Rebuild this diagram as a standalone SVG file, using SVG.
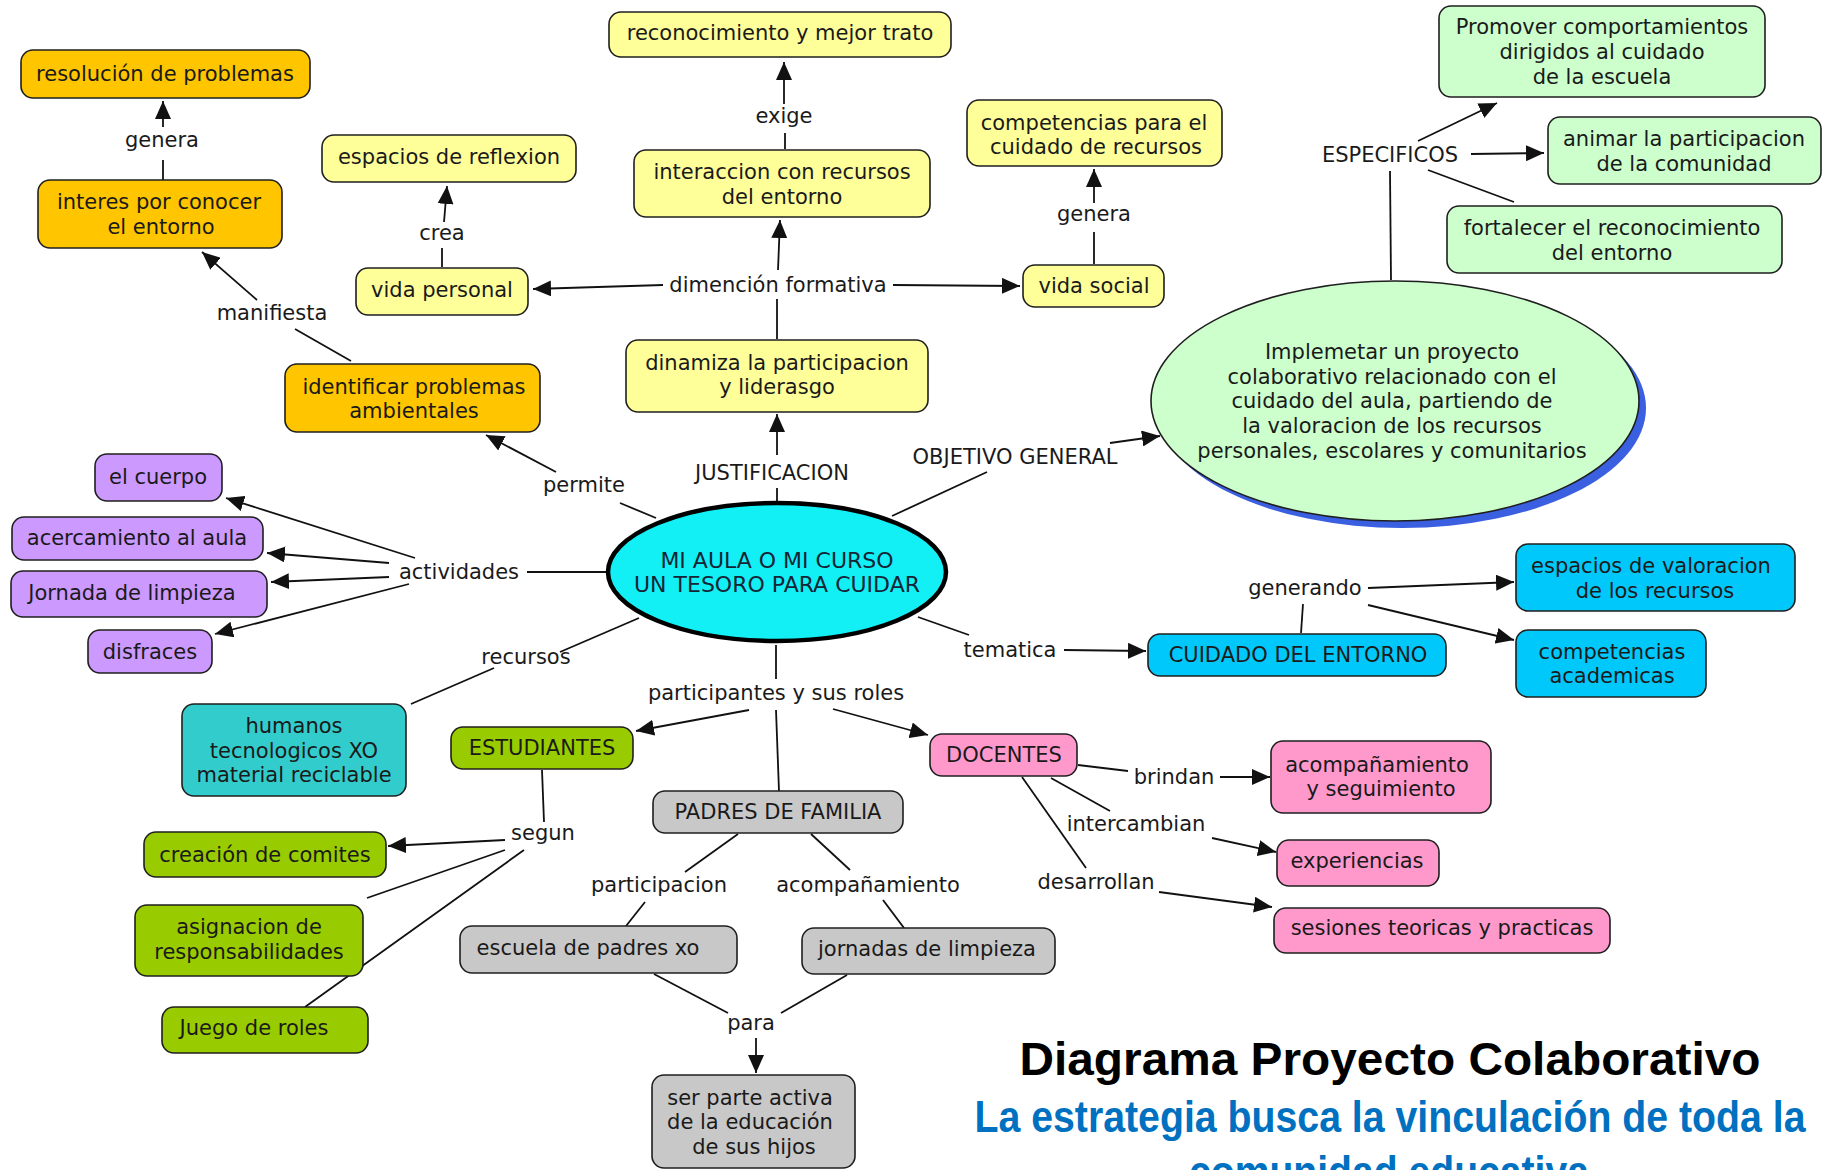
<svg xmlns="http://www.w3.org/2000/svg" width="1822" height="1170" viewBox="0 0 1822 1170">
<defs>
<style>
text{font-family:"DejaVu Sans",Verdana,sans-serif;font-size:21px;fill:#1a1a1a;text-anchor:middle}
.b{stroke:#1f1f1f;stroke-width:1.6}
.or{fill:#FFC600}.ye{fill:#FFFF99}.gr{fill:#CCFFCC}.pu{fill:#CC99FF}.te{fill:#33CCCC}.lg{fill:#99CC00}.gy{fill:#C8C8C8}.pk{fill:#FF99CC}.bl{fill:#00C8FA}
#conn line{stroke:#111;stroke-width:1.8;fill:none}
.a{marker-end:url(#ah)}
.t1{font-family:"Liberation Sans",Arial,sans-serif;font-weight:bold;font-size:47px;fill:#000}
.t2{font-family:"Liberation Sans",Arial,sans-serif;font-weight:bold;font-size:45px;fill:#0070C0}
</style>
<marker id="ah" markerUnits="userSpaceOnUse" markerWidth="18" markerHeight="16" refX="18" refY="8" orient="auto"><path d="M0,0 L18,8 L0,16 z" fill="#111"/></marker>
</defs>
<rect width="1822" height="1170" fill="#fff"/>
<g id="conn">
<line x1="351" y1="361" x2="295" y2="329"/>
<line class="a" x1="257" y1="300" x2="202" y2="252"/>
<line x1="163" y1="180" x2="163" y2="160"/>
<line class="a" x1="163" y1="127" x2="163" y2="101"/>
<line class="a" x1="663" y1="285" x2="533" y2="289"/>
<line x1="442" y1="267" x2="442" y2="248"/>
<line class="a" x1="444" y1="222" x2="447" y2="186"/>
<line class="a" x1="778" y1="270" x2="780" y2="220"/>
<line x1="777" y1="339" x2="777" y2="299"/>
<line x1="785" y1="149" x2="785" y2="133"/>
<line class="a" x1="784" y1="104" x2="784" y2="62"/>
<line class="a" x1="893" y1="285" x2="1020" y2="286"/>
<line x1="1094" y1="264" x2="1094" y2="232"/>
<line class="a" x1="1094" y1="203" x2="1094" y2="169"/>
<line x1="1391" y1="280" x2="1390" y2="171"/>
<line class="a" x1="1418" y1="141" x2="1497" y2="103"/>
<line class="a" x1="1471" y1="154" x2="1544" y2="153"/>
<line x1="1428" y1="170" x2="1514" y2="202"/>
<line x1="777" y1="502" x2="777" y2="488"/>
<line class="a" x1="777" y1="455" x2="777" y2="414"/>
<line x1="892" y1="516" x2="987" y2="472"/>
<line class="a" x1="1110" y1="443" x2="1160" y2="436"/>
<line x1="656" y1="518" x2="620" y2="503"/>
<line class="a" x1="556" y1="472" x2="486" y2="435"/>
<line x1="607" y1="572" x2="527" y2="572"/>
<line class="a" x1="415" y1="558" x2="226" y2="498"/>
<line class="a" x1="389" y1="563" x2="267" y2="553"/>
<line class="a" x1="389" y1="577" x2="271" y2="582"/>
<line class="a" x1="409" y1="584" x2="215" y2="634"/>
<line x1="639" y1="618" x2="560" y2="652"/>
<line x1="494" y1="668" x2="411" y2="704"/>
<line x1="918" y1="617" x2="969" y2="635"/>
<line class="a" x1="1064" y1="650" x2="1146" y2="651"/>
<line x1="1301" y1="633" x2="1303" y2="604"/>
<line class="a" x1="1368" y1="588" x2="1514" y2="582"/>
<line class="a" x1="1368" y1="605" x2="1514" y2="640"/>
<line x1="776" y1="645" x2="776" y2="679"/>
<line class="a" x1="749" y1="710" x2="636" y2="731"/>
<line class="a" x1="833" y1="709" x2="928" y2="735"/>
<line x1="776" y1="710" x2="779" y2="791"/>
<line x1="542" y1="770" x2="544" y2="822"/>
<line class="a" x1="505" y1="840" x2="388" y2="846"/>
<line x1="505" y1="850" x2="367" y2="898"/>
<line x1="524" y1="850" x2="305" y2="1007"/>
<line x1="738" y1="834" x2="685" y2="872"/>
<line x1="645" y1="902" x2="626" y2="926"/>
<line x1="811" y1="834" x2="850" y2="870"/>
<line x1="883" y1="900" x2="904" y2="928"/>
<line x1="654" y1="974" x2="728" y2="1013"/>
<line x1="847" y1="975" x2="781" y2="1013"/>
<line class="a" x1="756" y1="1038" x2="756" y2="1073"/>
<line x1="1078" y1="765" x2="1128" y2="771"/>
<line class="a" x1="1220" y1="777" x2="1270" y2="777"/>
<line x1="1051" y1="778" x2="1110" y2="811"/>
<line class="a" x1="1212" y1="838" x2="1276" y2="852"/>
<line x1="1022" y1="777" x2="1086" y2="868"/>
<line class="a" x1="1159" y1="892" x2="1272" y2="907"/>
</g>
<g id="labels">
<text x="162" y="147">genera</text>
<text x="272" y="320">manifiesta</text>
<text x="442" y="240">crea</text>
<text x="784" y="123">exige</text>
<text x="778" y="292">dimención formativa</text>
<text x="1094" y="221">genera</text>
<text x="1390" y="162">ESPECIFICOS</text>
<text x="584" y="492">permite</text>
<text x="772" y="480">JUSTIFICACION</text>
<text x="1015" y="464">OBJETIVO GENERAL</text>
<text x="459" y="579">actividades</text>
<text x="526" y="664">recursos</text>
<text x="1010" y="657">tematica</text>
<text x="1305" y="595">generando</text>
<text x="776" y="700">participantes y sus roles</text>
<text x="543" y="840">segun</text>
<text x="659" y="892">participacion</text>
<text x="868" y="892">acompañamiento</text>
<text x="751" y="1030">para</text>
<text x="1174" y="784">brindan</text>
<text x="1136" y="831">intercambian</text>
<text x="1096" y="889">desarrollan</text>
</g>
<g id="n-resolucion"><rect class="b or" x="21" y="50" width="289" height="48" rx="12"/><text x="165" y="81">resolución de problemas</text></g>
<g id="n-interes"><rect class="b or" x="38" y="180" width="244" height="68" rx="12"/><text x="159"><tspan x="159" y="209">interes por conocer</tspan><tspan x="161" y="234">el entorno</tspan></text></g>
<g id="n-identificar"><rect class="b or" x="285" y="364" width="255" height="68" rx="12"/><text><tspan x="414" y="394">identificar problemas</tspan><tspan x="414" y="418">ambientales</tspan></text></g>
<g id="n-espacios-reflexion"><rect class="b ye" x="322" y="135" width="254" height="47" rx="12"/><text x="449" y="164">espacios de reflexion</text></g>
<g id="n-vida-personal"><rect class="b ye" x="356" y="268" width="172" height="47" rx="12"/><text x="442" y="297">vida personal</text></g>
<g id="n-reconocimiento"><rect class="b ye" x="609" y="12" width="342" height="45" rx="12"/><text x="780" y="40">reconocimiento y mejor trato</text></g>
<g id="n-interaccion"><rect class="b ye" x="634" y="150" width="296" height="67" rx="12"/><text><tspan x="782" y="179">interaccion con recursos</tspan><tspan x="782" y="204">del entorno</tspan></text></g>
<g id="n-dinamiza"><rect class="b ye" x="626" y="340" width="302" height="72" rx="12"/><text><tspan x="777" y="370">dinamiza la participacion</tspan><tspan x="777" y="394">y liderasgo</tspan></text></g>
<g id="n-competencias-cuidado"><rect class="b ye" x="967" y="100" width="255" height="66" rx="12"/><text><tspan x="1094" y="130">competencias para el</tspan><tspan x="1096" y="154">cuidado de recursos</tspan></text></g>
<g id="n-vida-social"><rect class="b ye" x="1023" y="265" width="141" height="42" rx="12"/><text x="1094" y="293">vida social</text></g>
<g id="n-promover"><rect class="b gr" x="1439" y="6" width="326" height="91" rx="12"/><text><tspan x="1602" y="34">Promover comportamientos</tspan><tspan x="1602" y="59">dirigidos al cuidado</tspan><tspan x="1602" y="84">de la escuela</tspan></text></g>
<g id="n-animar"><rect class="b gr" x="1548" y="117" width="273" height="67" rx="12"/><text><tspan x="1684" y="146">animar la participacion</tspan><tspan x="1684" y="171">de la comunidad</tspan></text></g>
<g id="n-fortalecer"><rect class="b gr" x="1447" y="206" width="335" height="67" rx="12"/><text><tspan x="1612" y="235">fortalecer el reconocimiento</tspan><tspan x="1612" y="260">del entorno</tspan></text></g>
<g id="n-objetivo"><ellipse cx="1402" cy="408" rx="244" ry="120" fill="#3A5FE0"/><ellipse cx="1395" cy="401" rx="244" ry="120" class="gr" stroke="#1f1f1f" stroke-width="1.6"/><text><tspan x="1392" y="359">Implemetar un proyecto</tspan><tspan x="1392" y="384">colaborativo relacionado con el</tspan><tspan x="1392" y="408">cuidado del aula, partiendo de</tspan><tspan x="1392" y="433">la valoracion  de los recursos</tspan><tspan x="1392" y="458">personales, escolares y comunitarios</tspan></text></g>
<g id="n-central"><ellipse cx="777" cy="572" rx="169" ry="69" fill="#12F0F6" stroke="#000" stroke-width="4.5"/><text style="font-size:22px;fill:#152535"><tspan x="777" y="568">MI AULA O MI CURSO</tspan><tspan x="777" y="592">UN TESORO PARA CUIDAR</tspan></text></g>
<g id="n-cuerpo"><rect class="b pu" x="95" y="454" width="127" height="47" rx="12"/><text x="158" y="484">el cuerpo</text></g>
<g id="n-acercamiento"><rect class="b pu" x="12" y="517" width="251" height="43" rx="12"/><text x="137" y="545">acercamiento al aula</text></g>
<g id="n-jornada"><rect class="b pu" x="11" y="571" width="256" height="46" rx="12"/><text x="132" y="600">Jornada de limpieza</text></g>
<g id="n-disfraces"><rect class="b pu" x="88" y="630" width="124" height="43" rx="12"/><text x="150" y="659">disfraces</text></g>
<g id="n-humanos"><rect class="b te" x="182" y="704" width="224" height="92" rx="12"/><text><tspan x="294" y="733">humanos</tspan><tspan x="294" y="758">tecnologicos XO</tspan><tspan x="294" y="782">material reciclable</tspan></text></g>
<g id="n-estudiantes"><rect class="b lg" x="451" y="727" width="182" height="42" rx="12"/><text x="542" y="755">ESTUDIANTES</text></g>
<g id="n-comites"><rect class="b lg" x="144" y="832" width="242" height="45" rx="12"/><text x="265" y="862">creación de comites</text></g>
<g id="n-asignacion"><rect class="b lg" x="135" y="905" width="228" height="71" rx="12"/><text><tspan x="249" y="934">asignacion de</tspan><tspan x="249" y="959">responsabilidades</tspan></text></g>
<g id="n-juego"><rect class="b lg" x="162" y="1007" width="206" height="46" rx="12"/><text x="254" y="1035">Juego de roles</text></g>
<g id="n-padres"><rect class="b gy" x="653" y="791" width="250" height="42" rx="12"/><text x="778" y="819">PADRES DE FAMILIA</text></g>
<g id="n-escuela"><rect class="b gy" x="460" y="926" width="277" height="47" rx="12"/><text x="588" y="955">escuela de padres xo</text></g>
<g id="n-jornadas"><rect class="b gy" x="802" y="928" width="253" height="46" rx="12"/><text x="927" y="956">jornadas de limpieza</text></g>
<g id="n-ser-parte"><rect class="b gy" x="652" y="1075" width="203" height="93" rx="12"/><text><tspan x="750" y="1105">ser parte activa</tspan><tspan x="750" y="1129">de la educación</tspan><tspan x="754" y="1154">de sus hijos</tspan></text></g>
<g id="n-docentes"><rect class="b pk" x="930" y="734" width="147" height="42" rx="12"/><text x="1004" y="762">DOCENTES</text></g>
<g id="n-acompanamiento"><rect class="b pk" x="1271" y="741" width="220" height="72" rx="12"/><text><tspan x="1377" y="772">acompañamiento</tspan><tspan x="1381" y="796">y seguimiento</tspan></text></g>
<g id="n-experiencias"><rect class="b pk" x="1277" y="840" width="162" height="46" rx="12"/><text x="1357" y="868">experiencias</text></g>
<g id="n-sesiones"><rect class="b pk" x="1274" y="908" width="336" height="45" rx="12"/><text x="1442" y="935">sesiones teoricas y practicas</text></g>
<g id="n-cuidado"><rect class="b bl" x="1148" y="634" width="298" height="42" rx="12"/><text x="1298" y="662">CUIDADO DEL ENTORNO</text></g>
<g id="n-espacios-valoracion"><rect class="b bl" x="1516" y="544" width="279" height="67" rx="12"/><text><tspan x="1651" y="573">espacios de valoracion</tspan><tspan x="1655" y="598">de los recursos</tspan></text></g>
<g id="n-competencias-academicas"><rect class="b bl" x="1516" y="630" width="190" height="67" rx="12"/><text><tspan x="1612" y="659">competencias</tspan><tspan x="1612" y="683">academicas</tspan></text></g>
<g id="title">
<text class="t1" x="1390" y="1075" textLength="741" lengthAdjust="spacingAndGlyphs">Diagrama Proyecto Colaborativo</text>
<text class="t2" x="1390" y="1132" textLength="831" lengthAdjust="spacingAndGlyphs">La estrategia busca la vinculación de toda la</text>
<text class="t2" x="1389" y="1187" textLength="400" lengthAdjust="spacingAndGlyphs">comunidad educativa</text>
</g>
</svg>
